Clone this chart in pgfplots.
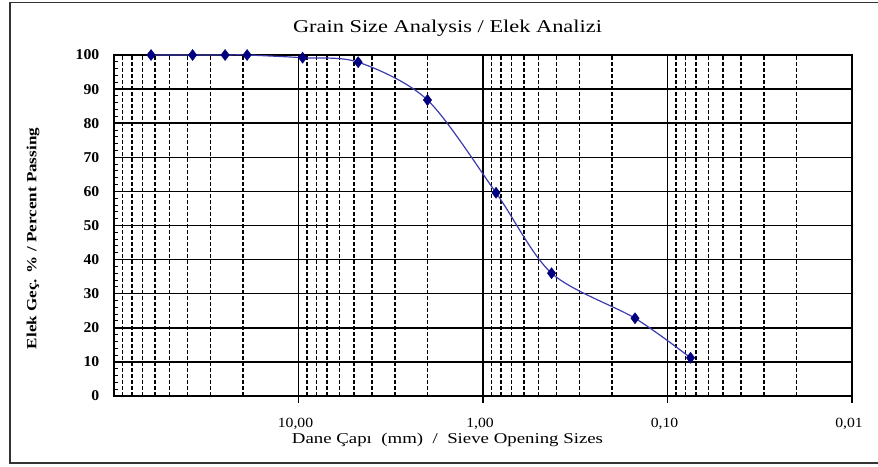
\documentclass[border=0pt]{standalone}
\usepackage{pgfplots}
\pgfplotsset{compat=1.18}
\usepackage{fontspec}
\setmainfont{Liberation Serif}
\definecolor{linecol}{RGB}{60,60,175}
\definecolor{markcol}{RGB}{0,0,128}
\begin{document}
\begin{tikzpicture}[x=1pt,y=1pt]
\useasboundingbox (0,0) rectangle (878,466);
\draw[line width=1.2pt,black!80] (10,3) rectangle (890,463.5);
\begin{axis}[
  at={(114pt,70pt)}, anchor=south west,
  scale only axis, width=738pt, height=341pt,
  xmode=log, x dir=reverse,
  xmin=0.01, xmax=100, ymin=0, ymax=100,
  xtick={0.01,0.1,1,10,100},
  xticklabels={{0,01},{0,10},{1,00},{10,00},{}},
  minor xtick={0.02,0.03,0.04,0.05,0.06,0.07,0.08,0.09,0.2,0.3,0.4,0.5,0.6,0.7,0.8,0.9,2,3,4,5,6,7,8,9,20,30,40,50,60,70,80,90},
  ytick={0,10,...,100},
  minor y tick num=4,
  tick pos=left,
  major tick length=0pt, minor tick length=4pt,
  minor x tick style={draw=none},
  minor y tick style={line width=1pt,black},
  xmajorgrids, ymajorgrids, xminorgrids,
  major grid style={line width=1.5pt,black},
  minor grid style={line width=1.5pt,black,dash pattern=on 4pt off 2pt},
  axis line style={line width=1.5pt,black},
  clip=false,
  /pgf/number format/assume math mode=true,
  x tick label style={font=\fontsize{14}{14}\selectfont, yshift=-19pt, xshift=-3pt, xscale=1.12},
  y tick label style={font=\fontsize{15}{15}\selectfont\bfseries, xshift=-11pt, xscale=1.05},
]
\addplot[linecol, line width=1.2pt, smooth, mark=diamond*, mark size=5.5pt,
  mark options={markcol, fill=markcol, line width=0.5pt}] coordinates {
  (63,100) (37.5,100) (25,100) (19,100) (9.5,99.2) (4.75,97.9)
  (2,86.8) (0.85,59.6) (0.425,36.0) (0.15,22.8) (0.075,11.2)
};
\draw[line width=1.5pt] (axis cs:10,0) -- ([yshift=-7pt]axis cs:10,0);
\draw[line width=1.5pt] (axis cs:1,0) -- ([yshift=-7pt]axis cs:1,0);
\draw[line width=1.5pt] (axis cs:0.1,0) -- ([yshift=-7pt]axis cs:0.1,0);
\draw[line width=1.5pt] (axis cs:0.01,0) -- ([yshift=-7pt]axis cs:0.01,0);
\end{axis}
\node at (447.5,438) {\resizebox{309pt}{\height}{\fontsize{18}{18}\selectfont Grain Size Analysis / Elek Analizi}};
\node at (447.5,26) {\resizebox{311pt}{\height}{\fontsize{15}{15}\selectfont Dane Çapı\enspace(mm)\enspace/\enspace Sieve Opening Sizes}};
\node[rotate=90] at (33,227.5) {\resizebox{221pt}{\height}{\fontsize{14}{14}\selectfont\bfseries Elek Geç. \% / Percent Passing}};
\end{tikzpicture}
\end{document}
